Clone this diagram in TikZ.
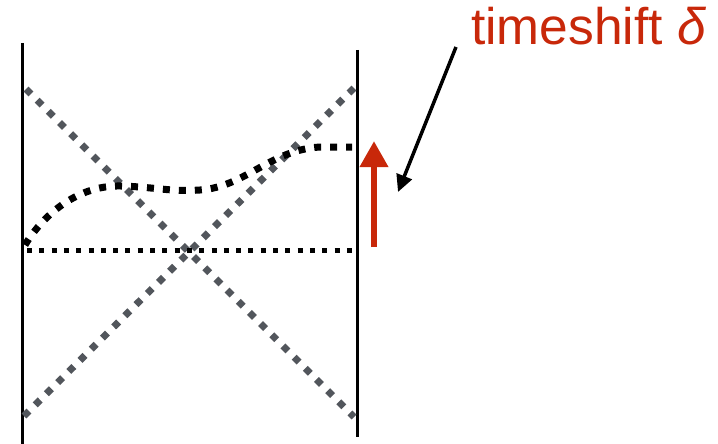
\documentclass[tikz,border=0pt]{standalone}
\usepackage{fontspec}
\setmainfont{Liberation Sans}
\usetikzlibrary{arrows.meta}
\definecolor{shiftred}{RGB}{200,40,10}
\definecolor{rowgray}{RGB}{82,86,92}

\begin{document}
\begin{tikzpicture}[x=1pt,y=-1pt]
\useasboundingbox (0,0) rectangle (718,444);
\tikzset{wall/.style={line width=3pt},
  graydots/.style={rowgray,line width=7pt,dash pattern=on 7pt off 8.8pt},
  blackdots/.style={line width=5pt,dash pattern=on 5pt off 7.3pt}}
% walls
\coordinate (lt) at (22,43); \coordinate (lb) at (22,444);
\coordinate (rt) at (357,50); \coordinate (rb) at (357,437);
\draw[wall] (lt) -- (lb);
\draw[wall] (rt) -- (rb);
% crossing rows
\draw[graydots] (26,89) -- (354,417);
\draw[graydots] (24,416) -- (354,88);
\draw[blackdots] (27,250) -- (353,250);
\draw[line width=7pt,dash pattern=on 7pt off 9pt] (25,245) .. controls (45,212) and (80,185) .. (121,186)
  .. controls (155,187) and (170,192) .. (200,190) .. controls (245,187) and (270,150) .. (320,147) -- (352,147);
% shift
\coordinate (sb) at (374,247); \coordinate (st) at (374,141);
\draw[shiftred,line width=6.5pt,-{Triangle[length=26pt,width=27pt]}] (sb) -- (st);
\node[shiftred,anchor=base west,inner sep=0,font=\fontsize{51.5}{60}\selectfont] (lbl) at (471,45) {timeshift {\itshape δ}};
\coordinate (ptr) at (456,47); \coordinate (tip) at (398,192);
\draw[line width=3.5pt,-{Triangle[length=17pt,width=16pt]}] (ptr) -- (tip);
\end{tikzpicture}
\end{document}
